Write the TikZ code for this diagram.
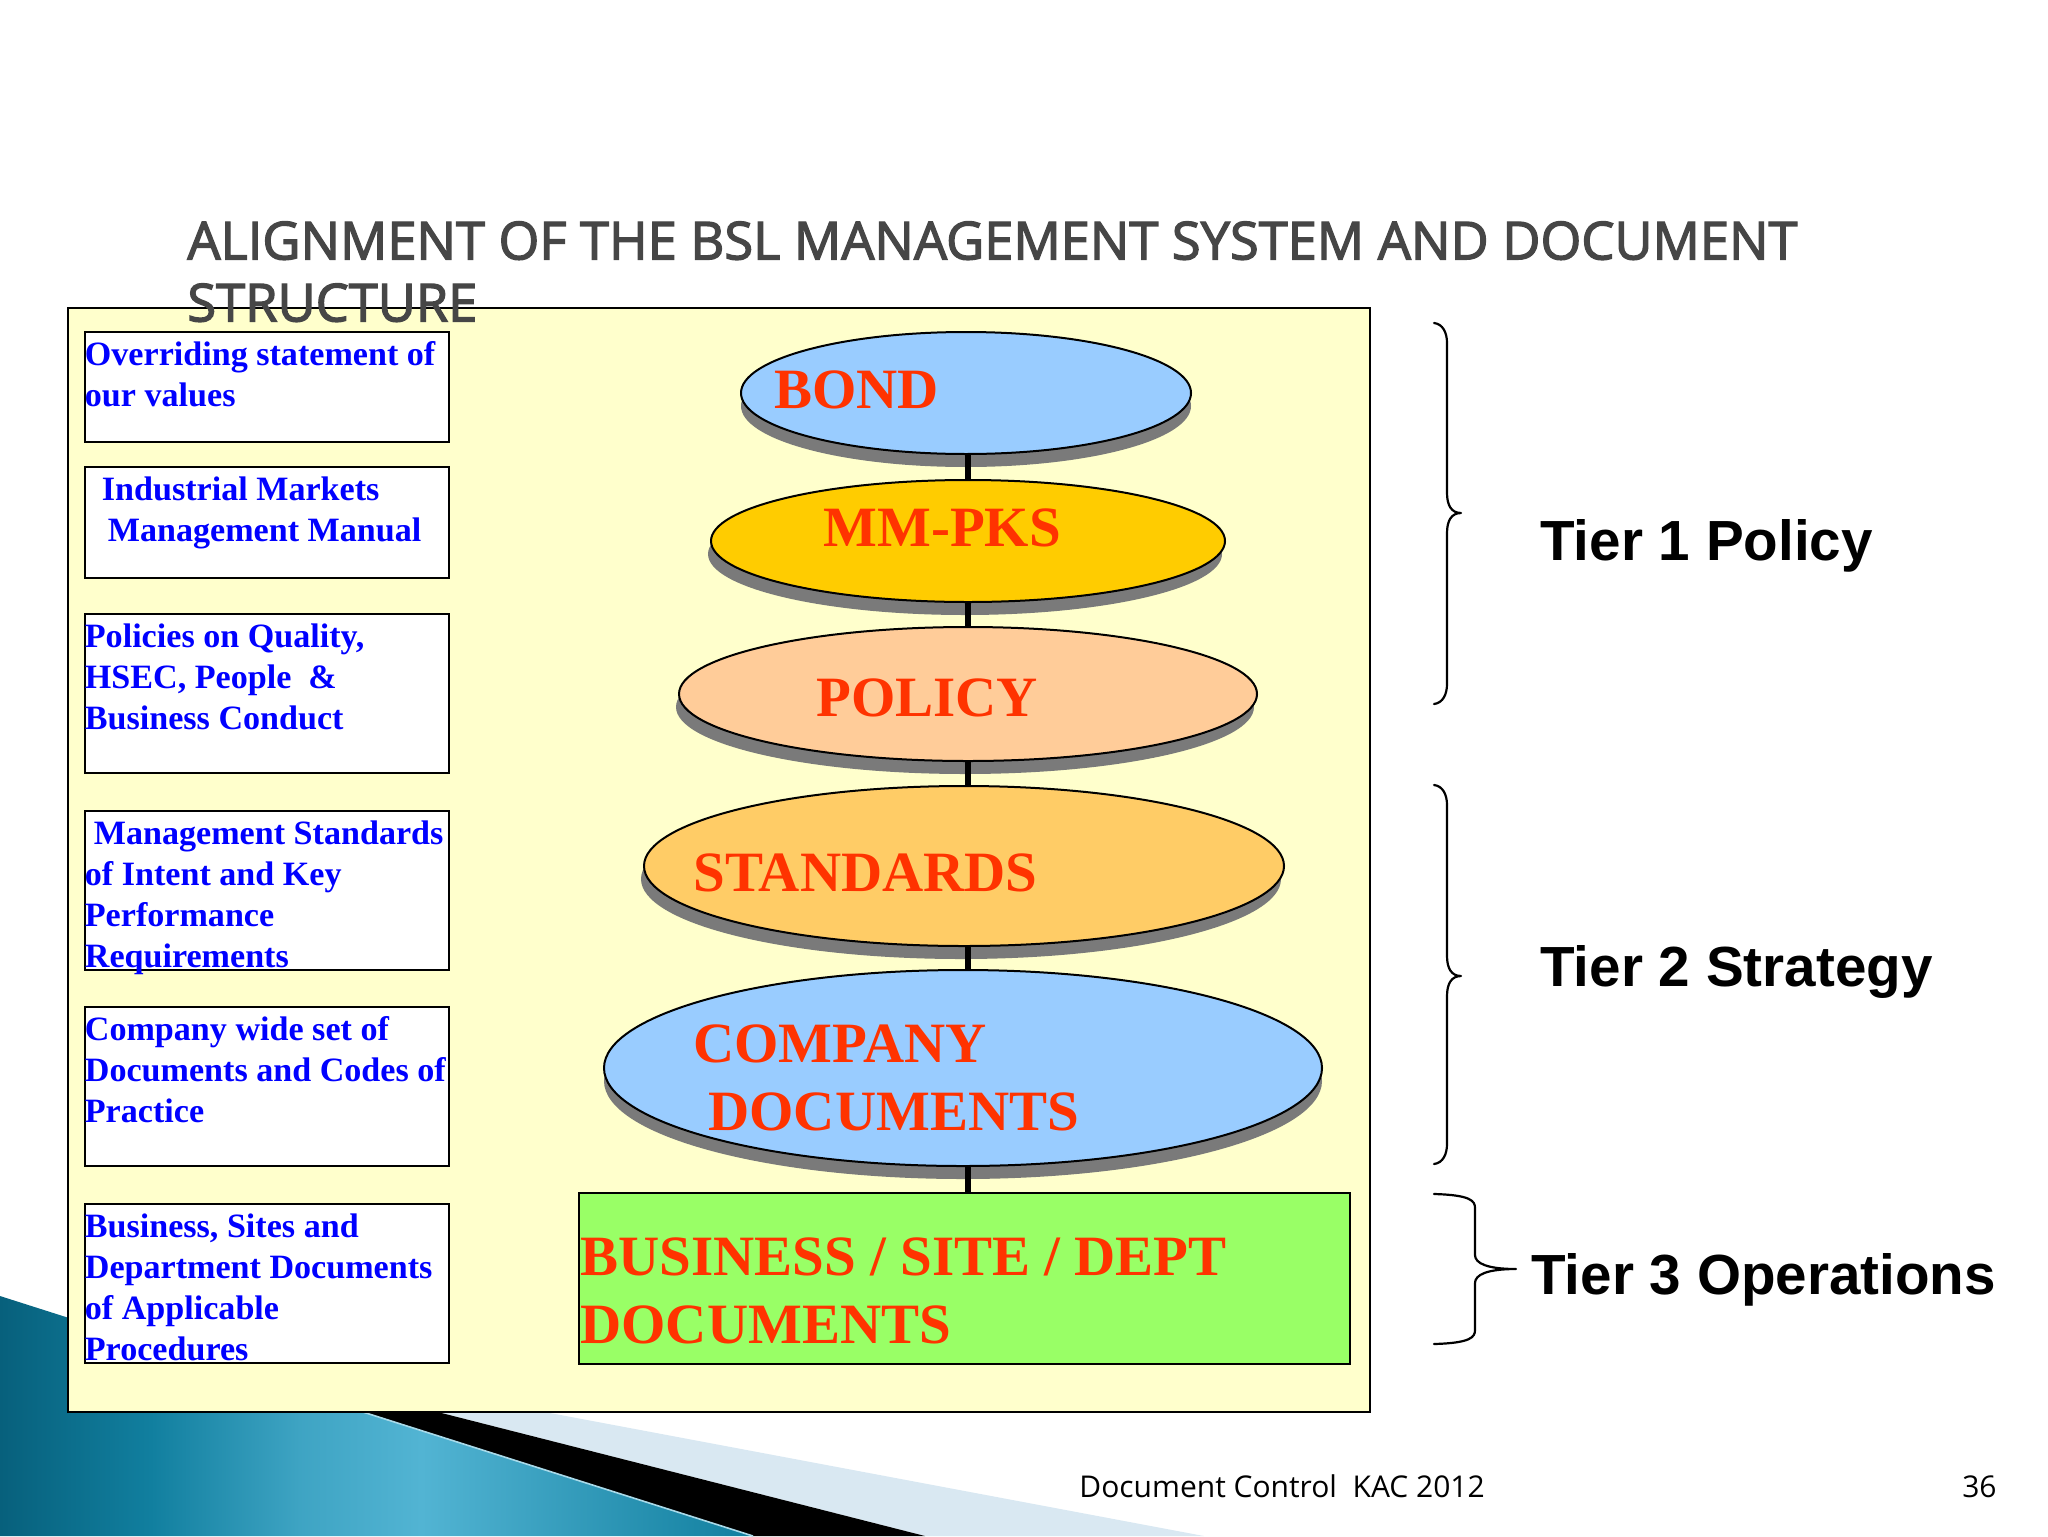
\documentclass[tikz,border=0pt]{standalone}
\usepackage{fontspec}
\usepackage{xcolor}
\usepackage{tikz}
\usetikzlibrary{positioning}
\usetikzlibrary{shapes.geometric, shadows}
\newfontfamily\labelfont{Liberation Serif}
\newfontfamily\tierfont{Liberation Sans}
\newfontfamily\slidefont{Open Sans}
\newfontfamily\titlefont[FakeBold=2.5]{Open Sans}
\definecolor{panelyellow}{HTML}{FFFFCC}
\definecolor{skyblue}{HTML}{99CCFF}
\definecolor{gold}{HTML}{FFCC00}
\definecolor{peach}{HTML}{FFCC99}
\definecolor{amber}{HTML}{FFCC66}
\definecolor{limegreen}{HTML}{99FF66}
\definecolor{labelred}{HTML}{FF3300}
\definecolor{titlegrey}{HTML}{464646}
\definecolor{palewedge}{HTML}{D9E8F2}
\definecolor{tealdark}{HTML}{07607C}
\definecolor{teallight}{HTML}{52B4D3}
\definecolor{tealmid}{HTML}{117F9F}
\pgfdeclarehorizontalshading{tealwedge}{100bp}{
  color(0bp)=(tealdark); color(25bp)=(tealdark); color(35bp)=(tealmid);
  color(45bp)=(teallight!70!tealmid); color(53bp)=(teallight);
  color(65bp)=(teallight!45!tealmid); color(75bp)=(tealmid); color(100bp)=(tealmid)}
% top aligned text of a side box: height, lines
\newcommand{\boxtext}[2]{\parbox[c][#1][t]{182pt}{\vspace*{2.6pt}\strut #2}}
% curly brace: top, middle, bottom, start x, spine x, tip x, bend
\newcommand{\tierbrace}[7]{
  \draw[bracket] (#4,#1) .. controls (#5-4,#1+1) and (#5,#1+#7*0.5) .. (#5,#1+#7)
    -- (#5,#2-#7) .. controls (#5,#2-#7*0.4) and (#5+#6*0.3,#2) .. (#5+#6,#2)
    .. controls (#5+#6*0.3,#2) and (#5,#2+#7*0.4) .. (#5,#2+#7)
    -- (#5,#3-#7) .. controls (#5,#3-#7*0.5) and (#5-4,#3-1) .. (#4,#3);
}
\tikzset{
  disc/.style = {draw, ellipse, inner sep=0pt, line width=1pt,
    drop shadow={shadow xshift=#1, shadow yshift=-6.5pt, fill=black!52, opacity=1}},
  disc/.default = -1.5pt,
  sidebox/.style = {draw, fill=white, inner sep=0pt, anchor=north west, line width=.9pt,
    text=blue, font=\labelfont\bfseries\fontsize{17.05}{20.5}\selectfont},
  biglabel/.style = {inner sep=0pt, anchor=base west, align=left, text=labelred,
    font=\labelfont\bfseries\fontsize{28.5}{34}\selectfont},
  tierlabel/.style = {inner sep=0pt, anchor=base west,
    font=\tierfont\bfseries\fontsize{28.3}{34}\selectfont},
  footer/.style = {inner sep=0pt, anchor=base west, font=\slidefont\fontsize{15}{18}\selectfont},
  stem/.style = {line width=3pt},
  bracket/.style = {line width=1.1pt, line cap=round, line join=round},
}
\begin{document}
\begin{tikzpicture}[x=.5pt,y=-.5pt]
        \useasboundingbox (0,0) rectangle (2048,1536);
        % corner wedges
        \fill[palewedge] (300,1366) -- (1204,1536) -- (925,1536) -- (300,1377) -- cycle;
        \fill[black] (300,1377) -- (925,1536) -- (753,1536) -- (300,1392) -- cycle;
        \path[shading=tealwedge] (0,1296) -- (753,1536) -- (0,1536) -- cycle;
        \draw[teallight!50!white, line width=.8pt] (300,1392) -- (753,1536);
        % panel and title
        \node[draw, fill=panelyellow, line width=1pt, inner sep=0pt, anchor=north west,
          minimum width=651pt, minimum height=552pt] (panel) at (67,307) {};
        \node[inner sep=0pt, anchor=north west, align=left, text=titlegrey,
          font=\titlefont\fontsize{26.2}{31}\selectfont] (title) at (187,221)
          {ALIGNMENT OF THE BSL MANAGEMENT SYSTEM AND DOCUMENT\\STRUCTURE};
        % left boxes
        \node[sidebox] (values) at (84,331) {\boxtext{55pt}{Overriding statement of\\our values}};
        \node[sidebox] (manual) at (84,466) {\boxtext{55.5pt}{\hspace*{8.5pt}Industrial Markets\\\hspace*{11.5pt}Management Manual}};
        \node[sidebox] (policies) at (84,613) {\boxtext{79.5pt}{Policies on Quality,\\HSEC, People\ \ \&\\Business Conduct}};
        \node[sidebox] (intent) at (84,810) {\boxtext{79.5pt}{\hspace*{4.5pt}Management Standards\\of Intent and Key\\Performance\\Requirements}};
        \node[sidebox] (codes) at (84,1006) {\boxtext{79.5pt}{Company wide set of\\Documents and Codes of\\Practice}};
        \node[sidebox] (procedures) at (84,1203) {\boxtext{79.5pt}{Business, Sites and\\Department Documents\\of Applicable\\Procedures}};
        % stack of ellipses
        \node[disc=0pt, fill=skyblue, minimum width=225pt, minimum height=61pt] (bond) at (966,393) {};
        \node[disc, fill=gold, minimum width=257pt, minimum height=61pt] (mmpks) at (968,541) {};
        \node[disc, fill=peach, minimum width=289pt, minimum height=67pt] (policy) at (968,694) {};
        \node[disc, fill=amber, minimum width=320pt, minimum height=80pt] (standards) at (964,866) {};
        \node[disc=0pt, fill=skyblue, minimum width=359pt, minimum height=98pt] (company) at (963,1068) {};
        \node[draw, fill=limegreen, line width=.9pt, inner sep=0pt, anchor=north west,
          minimum width=385.5pt, minimum height=85.5pt] (business) at (578,1192) {};
        \path[stem]
        (mmpks.north |- bond.south) edge (mmpks.north)
        (mmpks.south) edge (policy.north)
        (policy.south) edge (policy.south |- standards.north)
        (policy.south |- standards.south) edge (policy.south |- company.north)
        (policy.south |- company.south) edge (policy.south |- business.north);
        \node[biglabel] (bondtext) at (774,408) {BOND};
        \node[biglabel] (mmpkstext) at (823,546) {MM-PKS};
        \node[biglabel] (policytext) at (816,716) {POLICY};
        \node[biglabel] (standardstext) at (693,891) {STANDARDS};
        \node[biglabel, anchor=north west] (companytext) at (693,1024) {COMPANY\\\hspace*{7.5pt}DOCUMENTS};
        \node[biglabel, anchor=north west] (businesstext) at (580,1237) {BUSINESS / SITE / DEPT\\DOCUMENTS};
        % tiers
        \tierbrace{323}{513}{704}{1434}{1447}{14}{20}
        \tierbrace{785}{976}{1164}{1434}{1447}{14}{20}
        \tierbrace{1194}{1269}{1344}{1434}{1475}{41}{14}
        \node[tierlabel] (tierone) at (1540,560) {Tier 1 Policy};
        \node[tierlabel] (tiertwo) at (1540,986) {Tier 2 Strategy};
        \node[tierlabel] (tierthree) at (1531,1294) {Tier 3 Operations};
        % footer
        \node[footer] (doccontrol) at (1079,1497) {Document Control\ \ KAC 2012};
        \node[footer, anchor=base east] (pagenum) at (1997,1497) {36};
\end{tikzpicture}
\end{document}
